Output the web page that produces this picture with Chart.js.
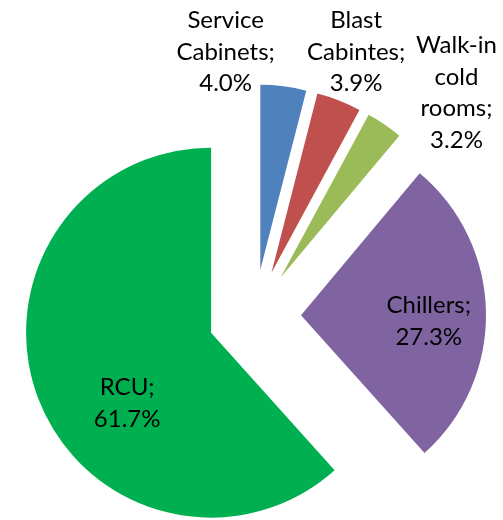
<!DOCTYPE html>
<html>
<head>
<meta charset="utf-8">
<style>
  html, body { margin: 0; padding: 0; background: #fff; overflow: hidden; }
  #wrap { width: 503px; height: 520px; }
</style>
<script src="https://cdn.jsdelivr.net/npm/chart.js"></script>
</head>
<body>
<div id="wrap"><canvas id="myChart" width="503" height="520"></canvas></div>
<script>
const categories = ['Service Cabinets', 'Blast Cabintes', 'Walk-in cold rooms', 'Chillers', 'RCU'];
const shares = [4.0, 3.9, 3.2, 27.3, 61.7];
const colors = ['#4F81BD', '#C0504D', '#9BBB59', '#8064A2', '#00B050'];

// where each label sits, relative to its exploded slice:
// turn from the slice bisector (degrees) and distance as a fraction of the radius
const placement = [
    { turn: -16.2, dist: 1.198 },
    { turn: -0.5, dist: 1.283 },
    { turn: 9.3, dist: 1.382 },
    { turn: 3.3, dist: 0.691 },
    { turn: -18.8, dist: 0.590 }
];

const explodePlugin = {
    id: 'explode',
    beforeDatasetDraw(chart, args, opts) {
        const ctx = chart.ctx;
        args.meta.data.forEach(arc => {
            const mid = (arc.startAngle + arc.endAngle) / 2;
            ctx.save();
            ctx.translate(Math.cos(mid) * opts.distance, Math.sin(mid) * opts.distance);
            arc.draw(ctx, chart.chartArea);
            ctx.restore();
        });
        return false;
    },
    afterDatasetsDraw(chart, args, opts) {
        const ctx = chart.ctx;
        const meta = chart.getDatasetMeta(0);
        const size = opts.fontSize;
        const lineH = opts.lineHeight;
        const capH = size * 0.716;
        ctx.save();
        ctx.font = size + 'px Lato, "Liberation Sans", sans-serif';
        ctx.fillStyle = '#000';
        ctx.textAlign = 'center';
        ctx.textBaseline = 'alphabetic';
        meta.data.forEach((arc, i) => {
            const p = arc.getProps(['x', 'y', 'startAngle', 'endAngle', 'outerRadius'], true);
            const mid = (p.startAngle + p.endAngle) / 2;
            const cx = p.x + Math.cos(mid) * opts.distance;
            const cy = p.y + Math.sin(mid) * opts.distance;
            const a = mid + placement[i].turn * Math.PI / 180;
            const r = p.outerRadius * placement[i].dist;
            const lx = cx + Math.cos(a) * r;
            const ly = cy + Math.sin(a) * r;
            const lines = (chart.data.labels[i] + ';').split(' ');
            lines.push(chart.data.datasets[0].data[i].toFixed(1) + '%');
            const n = lines.length;
            lines.forEach((t, k) => {
                ctx.fillText(t, lx, ly + capH / 2 + (k - (n - 1) / 2) * lineH);
            });
        });
        ctx.restore();
    }
};

new Chart(document.getElementById('myChart'), {
    type: 'pie',
    data: {
        labels: categories,
        datasets: [{
            data: shares,
            backgroundColor: colors,
            borderWidth: 0,
            radius: 185
        }]
    },
    options: {
        responsive: false,
        animation: false,
        devicePixelRatio: 1,
        layout: { padding: { left: 6, right: 0, top: 112, bottom: 0 } },
        plugins: {
            legend: { display: false },
            tooltip: { enabled: false },
            explode: { distance: 46.5, fontSize: 24, lineHeight: 31.5 }
        }
    },
    plugins: [explodePlugin]
});
</script>
</body>
</html>
